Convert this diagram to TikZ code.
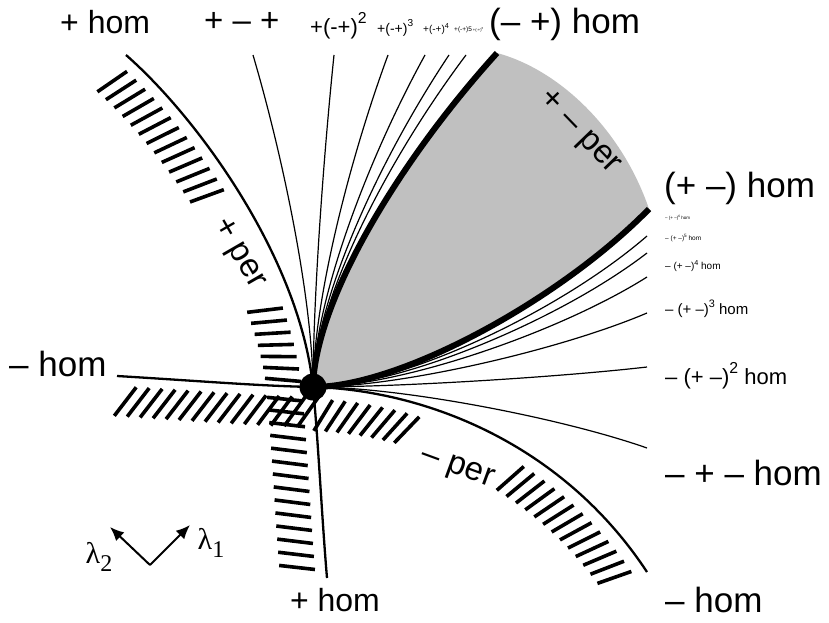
\documentclass[tikz,border=0pt]{standalone}
\usepackage{fontspec}
\usepackage{graphicx}
\setmainfont{Liberation Sans}
\newfontfamily\seriffont{Liberation Serif}
\usetikzlibrary{decorations.markings,arrows.meta}
\definecolor{greyfill}{RGB}{192,192,192}
\newcommand{\pw}[1]{\raisebox{0.48em}{\scalebox{0.72}{#1}}}
\tikzset{
  lbl/.style={inner sep=0pt, font=\fontsize{#1}{#1}\selectfont},
  fan/.style={line width=1.2pt},
  boldline/.style={line width=6pt},
  perline/.style={line width=2.3pt},
  hatchline/.style={line width=3.6pt},
  perhatch/.style n args={4}{postaction={decorate,decoration={markings,
      mark=between positions #1 and #2 step 13pt with {\draw[hatchline] (0,#3) ++(#4:-18) -- ++(#4:36);}}}},
  axisarrow/.style={line width=2pt,-{Latex[length=14pt,width=12pt]}},
}
\begin{document}
\begin{tikzpicture}[x=1pt,y=-1pt]
\useasboundingbox (0,0) rectangle (829,623);
\coordinate (O) at (313,387);
\coordinate (Atop) at (126,55);
\coordinate (Abot) at (327,578);
\coordinate (Bl) at (117,376);
\coordinate (Br) at (647,572);
\coordinate (Ut) at (497,53);
\coordinate (Rt) at (649,209);

% grey region
\fill[greyfill] (O) .. controls (315,300) and (400,160) .. (Ut)
  .. controls (560,70) and (622,130) .. (Rt)
  .. controls (560,300) and (400,387) .. (O) -- cycle;

% thin fan upward
\foreach \xe [count=\i] in {253,334,388,425,449,466} {
  \coordinate (u\i) at (\xe,55);
  \draw[fan] (O) .. controls ({313+0.01*(\xe-313)},301) and ({313+0.48*(\xe-313)},161) .. (u\i);
}
% thin fan rightward
\foreach \ye [count=\i] in {236,253,277,313,367,448} {
  \coordinate (r\i) at (647,\ye);
  \draw[fan] (O) .. controls (400,387) and (560,{387+0.5*(\ye-387)}) .. (r\i);
}
% bold boundaries
\draw[boldline] (O) .. controls (315,300) and (400,160) .. (Ut);
\draw[boldline] (O) .. controls (400,387) and (560,300) .. (Rt);

% + per curve
\draw[perline, perhatch={0.02}{0.45}{29}{-77}, perhatch={0.77}{1}{29}{-77}]
  (Atop) .. controls (200,120) and (300,260) .. (O);
\draw[perline, perhatch={0.05}{0.97}{29}{-79}]
  (O) .. controls (318,437) and (322,520) .. (Abot);
% - per curve
\draw[perline, perhatch={0.05}{1}{25}{-56}]
  (Bl) .. controls (200,381) and (260,386) .. (O);
\draw[perline, perhatch={0.03}{0.26}{28}{-62}, perhatch={0.57}{0.98}{30}{-74}]
  (O) .. controls (420,390) and (560,440) .. (Br);

% dot
\node[circle, fill=black, minimum size=27pt, inner sep=0pt] (dot) at (O) {};

% top labels
\node[lbl=32, anchor=west] (t1) at (60,22) {+ hom};
\node[lbl=33, anchor=west] (t2) at (204,22) {+ – +};
\node[lbl=22, anchor=west] (t3) at (310,26) {+(-+)\pw{2}};
\node[lbl=14, anchor=west] (t4) at (377,28) {+(-+)\pw{3}};
\node[lbl=10, anchor=west] (t5) at (423,29) {+(-+)\pw{4}};
\node[lbl=6.5, anchor=west] (t6) at (454,30) {+(-+)5\,{\fontsize{4}{4}\selectfont +(-+)\pw{6}}};
\node[lbl=35, anchor=west] (t7) at (489,24) {(– +) hom};

% right labels
\node[lbl=35, anchor=west] (s1) at (664,188) {(+ –) hom};
\node[lbl=4.5, anchor=west] (s2) at (665,218) {– (+ –)\pw{6} hom};
\node[lbl=6.5, anchor=west] (s3) at (665,238) {– (+ –)\pw{5} hom};
\node[lbl=10, anchor=west] (s4) at (665,266) {– (+ –)\pw{4} hom};
\node[lbl=15, anchor=west] (s5) at (665,309) {– (+ –)\pw{3} hom};
\node[lbl=22, anchor=west] (s6) at (665,376) {– (+ –)\pw{2} hom};
\node[lbl=35, anchor=west] (s7) at (665,473) {– + – hom};
\node[lbl=35, anchor=west] (s8) at (665,600) {– hom};

% left and bottom labels
\node[lbl=35, anchor=west] (lh) at (9,364) {– hom};
\node[lbl=32] (bh) at (335,600) {+ hom};

% per labels
\node[lbl=33, rotate=-60] (pp) at (238,254) {+ per};
\node[lbl=33, rotate=-46] (pm) at (579,133) {+ – per};
\node[lbl=33, rotate=-20] (mp) at (457,469) {– per};

% axes
\coordinate (ax) at (150,565);
\coordinate (a2) at (110,527);
\coordinate (a1) at (190,525);
\draw[axisarrow] (ax) -- (a2);
\draw[axisarrow] (ax) -- (a1);
\node[inner sep=0pt, font=\seriffont\fontsize{30}{30}\selectfont] (l2) at (99,557) {λ\raisebox{-8pt}{\fontsize{24}{24}\selectfont 2}};
\node[inner sep=0pt, font=\seriffont\fontsize{30}{30}\selectfont] (l1) at (211,543) {λ\raisebox{-8pt}{\fontsize{24}{24}\selectfont 1}};
\end{tikzpicture}
\end{document}
